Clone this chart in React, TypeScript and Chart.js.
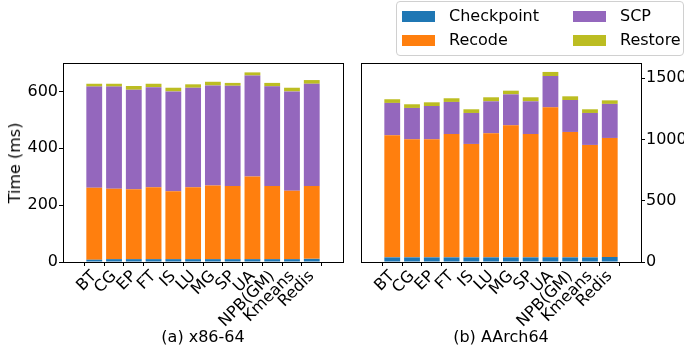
import React, { useEffect, useRef } from "react";
import { Chart, registerables } from "chart.js";

Chart.register(...registerables);

// Benchmarks on the x axis of both panels
const categories = ["BT", "CG", "EP", "FT", "IS", "LU", "MG", "SP", "UA", "NPB(GM)", "Kmeans", "Redis"];

const seriesNames = ["Checkpoint", "Recode", "SCP", "Restore"];
const seriesColors = ["#1f77b4", "#ff7f0e", "#9467bd", "#bcbd22"];

// (a) x86-64, time per phase in ms
const x86Checkpoint = [8, 10, 10, 10, 10, 10, 10, 10, 10, 10, 10, 11];
const x86Recode = [253, 248, 246, 253, 239, 253, 259, 257, 291, 257, 241, 256];
const x86Scp = [356, 359, 350, 352, 351, 350, 352, 353, 355, 351, 349, 360];
const x86Restore = [10, 10, 13, 12, 13, 12, 13, 10, 11, 12, 13, 13];

// (b) AArch64, time per phase in ms
const armCheckpoint = [38, 38, 38, 38, 38, 38, 38, 38, 39, 38, 38, 41];
const armRecode = [997, 964, 964, 1007, 926, 1013, 1078, 1007, 1224, 1024, 918, 972];
const armScp = [264, 256, 272, 262, 253, 261, 253, 267, 256, 261, 261, 278];
const armRestore = [30, 30, 30, 30, 30, 33, 30, 33, 33, 30, 30, 29];

const x86Ticks = [0, 200, 400, 600];
const armTicks = [0, 500, 1000, 1500];
const x86Max = 700;
const armMax = 1625;

const W = 684;
const H = 350;
const FONT = "'DejaVu Sans', sans-serif";

type Area = { left: number; right: number; top: number; bottom: number };

const framePlugin = {
  id: "frame",
  afterDraw(chart: any) {
    const { ctx, chartArea: a } = chart;
    ctx.save();
    ctx.strokeStyle = "#000";
    ctx.lineWidth = 1;
    ctx.strokeRect(Math.round(a.left) + 0.5, Math.round(a.top) + 0.5, Math.round(a.right - a.left), Math.round(a.bottom - a.top));
    ctx.restore();
  },
};

function makeChart(
  canvas: HTMLCanvasElement,
  series: number[][],
  yMax: number,
  yTicks: number[],
  area: Area,
  yPos: "left" | "right"
) {
  const n = categories.length;
  const axisW = yPos === "left" ? area.left : W - area.right;
  return new Chart(canvas, {
    type: "bar",
    data: {
      datasets: series.map((vals, s) => ({
        label: seriesNames[s],
        data: vals.map((v, i) => ({ x: i, y: v })),
        backgroundColor: seriesColors[s],
        borderWidth: 0,
        stack: "total",
        categoryPercentage: 1,
        barPercentage: 0.8,
      })),
    },
    options: {
      animation: false,
      responsive: false,
      devicePixelRatio: 1,
      layout: {
        padding: {
          left: yPos === "left" ? 0 : area.left,
          right: yPos === "left" ? W - area.right : 0,
          top: area.top,
          bottom: 0,
        },
      },
      plugins: { legend: { display: false }, tooltip: { enabled: false } },
      scales: {
        x: {
          type: "linear",
          bounds: "data",
          min: -0.99,
          max: n - 1 + 0.99,
          afterBuildTicks: (scale: any) => {
            scale.ticks = categories.map((_, i) => ({ value: i }));
          },
          afterFit: (scale: any) => {
            scale.height = H - area.bottom;
            scale.paddingLeft = 0;
            scale.paddingRight = 0;
          },
          grid: { display: true, drawOnChartArea: false, drawTicks: true, tickLength: 4, color: "#000", lineWidth: 1 },
          border: { display: false },
          ticks: {
            autoSkip: false,
            minRotation: 45,
            maxRotation: 45,
            padding: 1,
            color: "#000",
            font: { family: FONT, size: 16 },
            callback: (v: any) => categories[v as number] ?? "",
          },
        },
        y: {
          position: yPos,
          stacked: true,
          min: 0,
          max: yMax,
          afterBuildTicks: (scale: any) => {
            scale.ticks = yTicks.map((v) => ({ value: v }));
          },
          afterFit: (scale: any) => {
            scale.width = axisW;
            scale.paddingTop = 0;
            scale.paddingBottom = 0;
          },
          grid: { display: true, drawOnChartArea: false, drawTicks: true, tickLength: 4, color: "#000", lineWidth: 1 },
          border: { display: false },
          ticks: {
            padding: 1,
            color: "#000",
            font: { family: FONT, size: 16 },
            callback: (v: any) => String(v),
          },
        },
      },
    },
    plugins: [framePlugin],
  } as any);
}

const legendItems = [
  { name: seriesNames[0], color: seriesColors[0], px: 402, tx: 449, cy: 16 },
  { name: seriesNames[1], color: seriesColors[1], px: 402, tx: 449, cy: 40 },
  { name: seriesNames[2], color: seriesColors[2], px: 573, tx: 620, cy: 16 },
  { name: seriesNames[3], color: seriesColors[3], px: 573, tx: 620, cy: 40 },
];

export default function App() {
  const leftRef = useRef<HTMLCanvasElement>(null);
  const rightRef = useRef<HTMLCanvasElement>(null);

  useEffect(() => {
    document.body.style.margin = "0";
    const left = makeChart(
      leftRef.current!,
      [x86Checkpoint, x86Recode, x86Scp, x86Restore],
      x86Max,
      x86Ticks,
      { left: 63, right: 343, top: 63, bottom: 262 },
      "left"
    );
    const right = makeChart(
      rightRef.current!,
      [armCheckpoint, armRecode, armScp, armRestore],
      armMax,
      armTicks,
      { left: 361, right: 641, top: 63, bottom: 262 },
      "right"
    );
    return () => {
      left.destroy();
      right.destroy();
    };
  }, []);

  const text: React.CSSProperties = {
    position: "absolute",
    fontFamily: FONT,
    fontSize: 16,
    color: "#000",
    whiteSpace: "nowrap",
    lineHeight: "20px",
  };

  return (
    <div style={{ position: "absolute", left: 0, top: 0, width: W, height: H, background: "#fff", overflow: "hidden" }}>
      <canvas ref={leftRef} width={W} height={H} style={{ position: "absolute", left: 0, top: 0 }} />
      <canvas ref={rightRef} width={W} height={H} style={{ position: "absolute", left: 0, top: 0 }} />
      <div
        style={{
          ...text,
          left: 14.5,
          top: 162.5,
          transform: "translate(-50%, -50%) rotate(-90deg)",
        }}
      >
        Time (ms)
      </div>
      <div style={{ ...text, left: 63, width: 280, top: 327, textAlign: "center" }}>(a) x86-64</div>
      <div style={{ ...text, left: 361, width: 280, top: 327, textAlign: "center" }}>(b) AArch64</div>
      <div
        style={{
          position: "absolute",
          left: 396,
          top: 1,
          width: 286,
          height: 53,
          border: "1px solid #d0d0d0",
          borderRadius: 4,
          background: "rgba(255,255,255,0.8)",
        }}
      />
      {legendItems.map((it) => (
        <React.Fragment key={it.name}>
          <div
            style={{
              position: "absolute",
              left: it.px,
              top: it.cy - 5.5,
              width: 33,
              height: 11,
              background: it.color,
            }}
          />
          <div style={{ ...text, left: it.tx, top: it.cy - 10 }}>{it.name}</div>
        </React.Fragment>
      ))}
    </div>
  );
}
